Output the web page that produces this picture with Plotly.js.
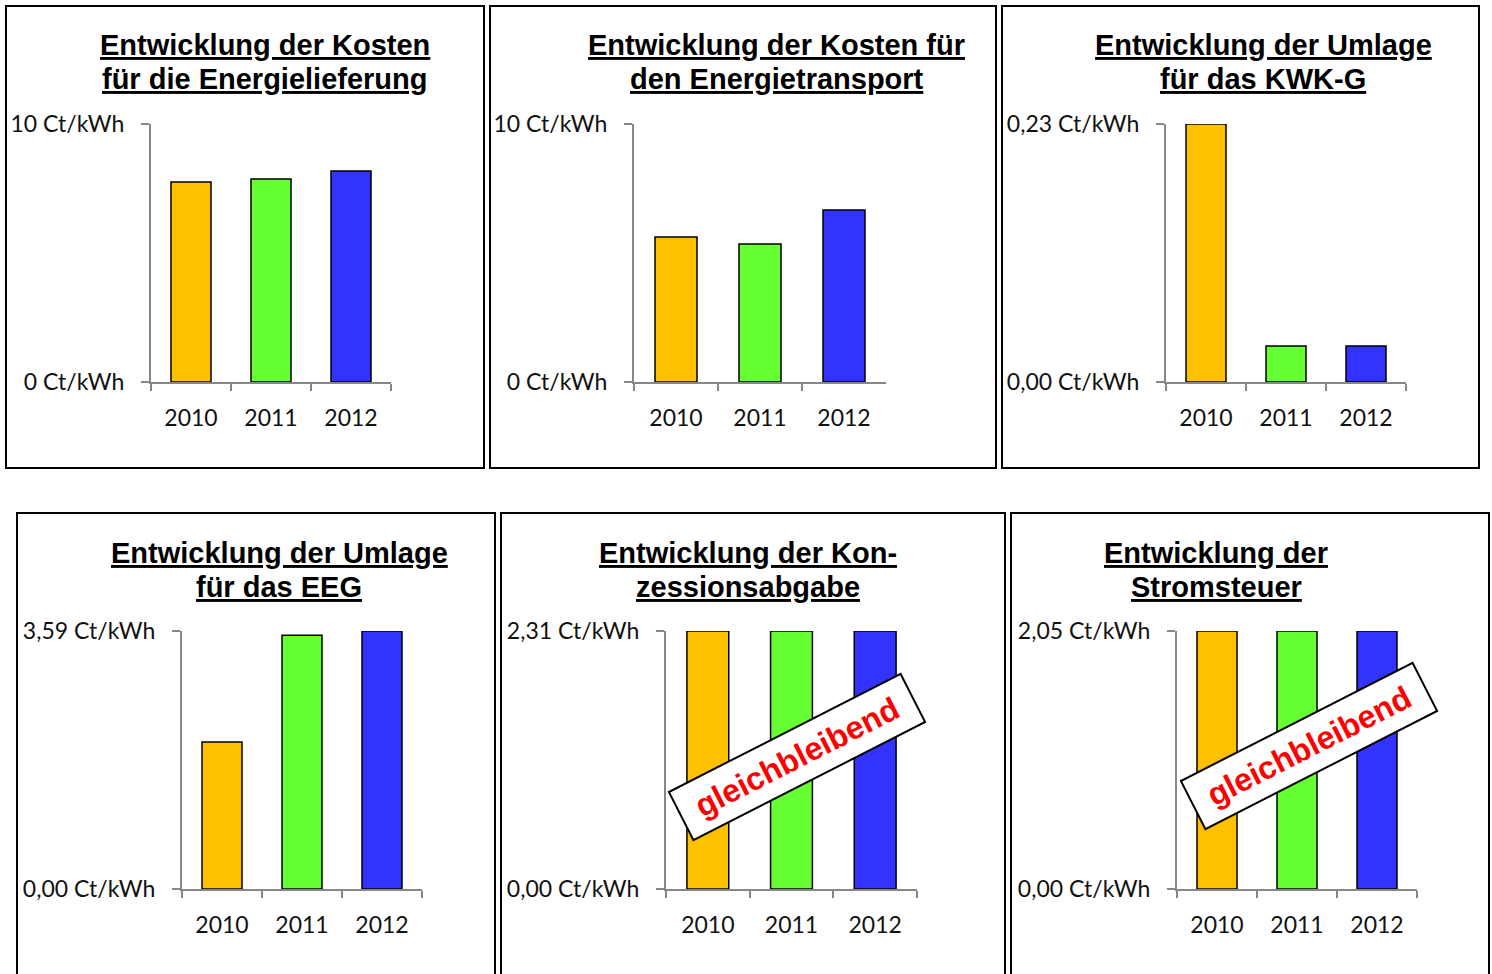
<!DOCTYPE html>
<html>
<head>
<meta charset="utf-8">
<script src="https://cdn.plot.ly/plotly-3.0.1.min.js"></script>
<style>
html,body{margin:0;padding:0;background:#fff;}
#chart{width:1492px;height:974px;}
</style>
</head>
<body>
<div id="chart"></div>
<script>
// ---------- data ----------
const years = ['2010', '2011', '2012'];
const barColors = ['#FFC000', '#66FF33', '#3333FF'];

const energielieferung = [7.75, 7.87, 8.18];
const energietransport = [5.62, 5.35, 6.67];
const kwkUmlage = [0.23, 0.032, 0.032];
const eegUmlage = [2.047, 3.53, 3.59];
const konzessionsabgabe = [2.31, 2.31, 2.31];
const stromsteuer = [2.05, 2.05, 2.05];

const axisMax = [10, 10, 0.23, 3.59, 2.31, 2.05];
const yTickText = [
  ['0 Ct/kWh', '10 Ct/kWh'],
  ['0 Ct/kWh', '10 Ct/kWh'],
  ['0,00 Ct/kWh', '0,23 Ct/kWh'],
  ['0,00 Ct/kWh', '3,59 Ct/kWh'],
  ['0,00 Ct/kWh', '2,31 Ct/kWh'],
  ['0,00 Ct/kWh', '2,05 Ct/kWh']
];
const titles = [
  ['Entwicklung der Kosten', 'für die Energielieferung'],
  ['Entwicklung der Kosten für', 'den Energietransport'],
  ['Entwicklung der Umlage', 'für das KWK-G'],
  ['Entwicklung der Umlage', 'für das EEG'],
  ['Entwicklung der Kon-', 'zessionsabgabe'],
  ['Entwicklung der', 'Stromsteuer']
];
const stampText = 'gleichbleibend';
const series = [energielieferung, energietransport, kwkUmlage, eegUmlage, konzessionsabgabe, stromsteuer];

// ---------- layout geometry (pixels) ----------
const W = 1492, H = 974;
const px = x => x / W;
const py = y => 1 - y / H;

const plotBoxes = [
  {x0: 151, x1: 391, y0: 124, y1: 382},
  {x0: 634, x1: 886, y0: 124, y1: 382},
  {x0: 1166, x1: 1406, y0: 124, y1: 382},
  {x0: 182, x1: 422, y0: 631, y1: 889},
  {x0: 666, x1: 917, y0: 631, y1: 889},
  {x0: 1177, x1: 1417, y0: 631, y1: 889}
];
const frames = [
  {x0: 6, x1: 484, y0: 6, y1: 468},
  {x0: 490, x1: 996, y0: 6, y1: 468},
  {x0: 1002, x1: 1479, y0: 6, y1: 468},
  {x0: 17, x1: 495, y0: 513, y1: 990},
  {x0: 501, x1: 1005, y0: 513, y1: 990},
  {x0: 1011, x1: 1489, y0: 513, y1: 990}
];
const titlePos = [
  {x: 265, y1: 45, y2: 79},
  {x: 777, y1: 45, y2: 79},
  {x: 1263, y1: 45, y2: 79},
  {x: 279, y1: 553, y2: 587},
  {x: 748, y1: 553, y2: 587},
  {x: 1216, y1: 553, y2: 587}
];
const stampPos = {4: {x: 797, y: 757}, 5: {x: 1309, y: 746}};

const tickFont = {family: 'Lato, "Open Sans", sans-serif', size: 23, color: '#111'};
const gray = '#878787';

const data = [];
const layout = {
  width: W, height: H,
  margin: {l: 0, r: 0, t: 0, b: 0},
  paper_bgcolor: '#fff', plot_bgcolor: '#fff',
  showlegend: false,
  shapes: [], annotations: []
};

series.forEach((vals, i) => {
  const n = i === 0 ? '' : String(i + 1);
  data.push({
    type: 'bar',
    x: years, y: vals,
    xaxis: 'x' + n, yaxis: 'y' + n,
    width: 0.5,
    marker: {color: barColors, line: {color: '#000', width: 1.5}},
    hoverinfo: 'x+y'
  });
  const b = plotBoxes[i];
  layout['xaxis' + n] = {
    domain: [px(b.x0), px(b.x1)],
    anchor: 'y' + n,
    type: 'category',
    range: [-0.5, 2.5],
    showline: true, linecolor: gray, linewidth: 2,
    ticks: 'outside', tickson: 'boundaries', ticklen: 7, tickcolor: gray, tickwidth: 2,
    showgrid: false, zeroline: false,
    tickfont: tickFont, ticklabelstandoff: 14,
    fixedrange: true
  };
  layout['yaxis' + n] = {
    domain: [py(b.y1), py(b.y0)],
    anchor: 'x' + n,
    range: [0, axisMax[i]],
    tickvals: [0, axisMax[i]],
    ticktext: yTickText[i],
    showline: true, linecolor: gray, linewidth: 2,
    ticks: 'outside', ticklen: 8, tickcolor: gray, tickwidth: 2,
    showgrid: true, gridcolor: gray, gridwidth: 2,
    zeroline: false,
    tickfont: tickFont, ticklabelstandoff: 12,
    fixedrange: true
  };
  const f = frames[i];
  layout.shapes.push({
    type: 'rect', xref: 'paper', yref: 'paper',
    x0: px(f.x0), x1: px(f.x1), y0: py(f.y1), y1: py(f.y0),
    line: {color: '#000', width: 2}, fillcolor: 'rgba(0,0,0,0)'
  });
  const t = titlePos[i];
  [[titles[i][0], t.y1], [titles[i][1], t.y2]].forEach(([txt, yy]) => {
    layout.annotations.push({
      xref: 'paper', yref: 'paper', x: px(t.x), y: py(yy),
      xanchor: 'center', yanchor: 'middle', showarrow: false,
      text: '<u>' + txt + '</u>',
      font: {family: '"Liberation Sans", Arial, sans-serif', size: 29, color: '#000', weight: 700}
    });
  });
  if (stampPos[i]) {
    layout.annotations.push({
      xref: 'paper', yref: 'paper', x: px(stampPos[i].x), y: py(stampPos[i].y),
      xanchor: 'center', yanchor: 'middle', showarrow: false,
      text: '<b>' + stampText + '</b>',
      textangle: -27,
      width: 250, height: 44,
      bgcolor: '#fff', bordercolor: '#000', borderwidth: 2, borderpad: 4,
      font: {family: '"Liberation Sans", Arial, sans-serif', size: 32, color: '#FF0000'}
    });
  }
});

Plotly.newPlot('chart', data, layout, {displayModeBar: false, staticPlot: true});
</script>
</body>
</html>
